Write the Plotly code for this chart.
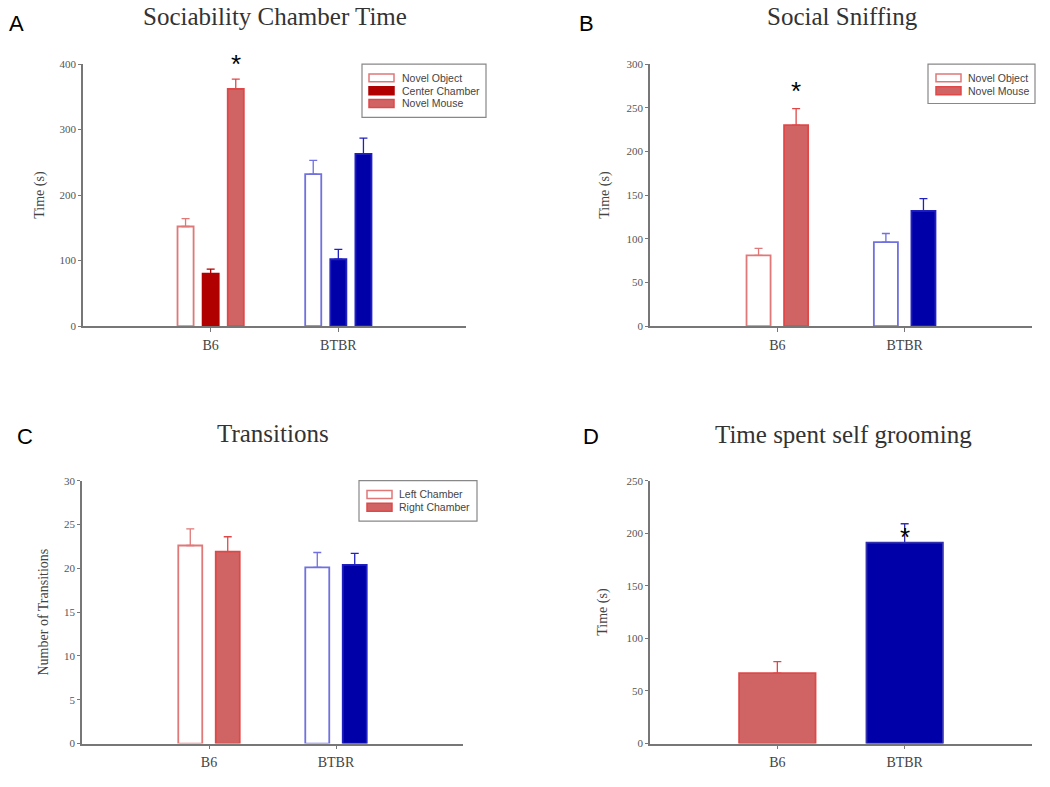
import plotly.graph_objects as go

# data
strains = ['B6', 'BTBR']

# A - Sociability chamber time
chamber_object = [152, 232]
chamber_object_err = [12, 21]
chamber_center = [80, 102]
chamber_center_err = [7, 15]
chamber_mouse = [362, 263]
chamber_mouse_err = [15, 24]

# B - Social sniffing
sniff_object = [81, 96]
sniff_object_err = [8, 10]
sniff_mouse = [230, 132]
sniff_mouse_err = [19, 14]

# C - Transitions
trans_left = [22.6, 20.1]
trans_left_err = [1.9, 1.7]
trans_right = [21.9, 20.4]
trans_right_err = [1.7, 1.3]

# D - Self grooming
groom = [67, 191]
groom_err = [11, 18]

RED_LINE = '#e04848'
RED_OPEN = '#e07878'
RED_FILL = '#d06464'
DARK_RED = '#b00000'
BLUE_OPEN = '#7070e0'
BLUE_FILL = '#0000a8'
BLUE_LINE = '#2020c0'

# styles per condition: (fill, outline) for B6 and BTBR
OPEN = [('white', RED_OPEN), ('white', BLUE_OPEN)]
CENTER = [(DARK_RED, DARK_RED), (BLUE_FILL, BLUE_LINE)]
FILLED = [(RED_FILL, RED_LINE), (BLUE_FILL, BLUE_LINE)]

SERIF = 'Liberation Serif, Times New Roman, serif'
SANS = 'Liberation Sans, Arial, sans-serif'

# body margin is removed in the page (see post_script), so screen px == figure px
W, H = 1050, 787


def px(x):
    return x / W


def py(y):
    return 1 - y / H


fig = go.Figure()


def add_group(y, err, style, group, xa, ya, **kw):
    # one trace per strain so each strain gets its own error bar colour
    for i, s in enumerate(strains):
        fill, line = style[i]
        fig.add_trace(go.Bar(
            x=[s], y=[y[i]], offsetgroup=group,
            marker=dict(color=fill, line=dict(color=line, width=1.8)),
            error_y=dict(type='data', array=[err[i]], arrayminus=[0], symmetric=False,
                         color=line, thickness=1.3, width=4),
            xaxis=xa, yaxis=ya, showlegend=False, **kw))


add_group(chamber_object, chamber_object_err, OPEN, 'a1', 'x', 'y')
add_group(chamber_center, chamber_center_err, CENTER, 'a2', 'x', 'y')
add_group(chamber_mouse, chamber_mouse_err, FILLED, 'a3', 'x', 'y')

add_group(sniff_object, sniff_object_err, OPEN, 'b1', 'x2', 'y2')
add_group(sniff_mouse, sniff_mouse_err, FILLED, 'b2', 'x2', 'y2')

add_group(trans_left, trans_left_err, OPEN, 'c1', 'x3', 'y3')
add_group(trans_right, trans_right_err, FILLED, 'c2', 'x3', 'y3')

add_group(groom, groom_err, [(RED_FILL, RED_LINE), (BLUE_FILL, '#3030b0')], 'd1', 'x4', 'y4',
          width=0.6, offset=-0.3)

# axis boxes in screen pixels: (left, right, top, bottom)
boxes = [(83, 466, 59, 325), (650, 1032, 59, 325), (82, 463, 482, 749), (650, 1032, 482, 749)]
yranges = [[0, 400], [0, 300], [0, 30], [0, 250]]
ydticks = [100, 50, 5, 50]
ytitles = ['Time (s)', 'Time (s)', 'Number of Transitions', 'Time (s)']
ystand = [12, 14, 12, 16]

axis_common = dict(showline=True, linecolor='#777', linewidth=1.5, showgrid=False,
                   zeroline=False, ticks='outside', tickcolor='#777', ticklen=3)

layout = dict(
    width=W, height=H, margin=dict(l=0, r=0, t=0, b=0),
    paper_bgcolor='white', plot_bgcolor='white',
    barmode='group', bargap=0.41, bargroupgap=0.36,
)
for i in range(4):
    s = '' if i == 0 else str(i + 1)
    l, r, t, b = boxes[i]
    layout['xaxis' + s] = dict(axis_common, domain=[px(l), px(r)], anchor='y' + s, type='category',
                               range=[-1, 2], ticklen=4, ticklabelstandoff=1,
                               tickfont=dict(family=SERIF, size=14, color='#444'))
    layout['yaxis' + s] = dict(axis_common, domain=[py(b), py(t)], anchor='x' + s, range=yranges[i],
                               dtick=ydticks[i], tickfont=dict(family=SERIF, size=11, color='#555'),
                               title=dict(text=ytitles[i], standoff=ystand[i],
                                          font=dict(family=SERIF, size=14, color='#444')))

fig.update_layout(**layout)

# hand-drawn legends (box, swatches, labels) to match the compact originals
legends = [
    ((362, 486, 59, 113), 369, 400, [73, 86, 99],
     ['Novel Object', 'Center Chamber', 'Novel Mouse'], [OPEN[0], CENTER[0], FILLED[0]]),
    ((928, 1035, 59, 99), 936, 966, [73, 86],
     ['Novel Object', 'Novel Mouse'], [OPEN[0], FILLED[0]]),
    ((359, 477, 482, 523), 367, 397, [496, 509],
     ['Left Chamber', 'Right Chamber'], [OPEN[0], FILLED[0]]),
]
for (l, r, t, b), sx, tx, rows, labels, styles in legends:
    fig.add_shape(type='rect', xref='paper', yref='paper', x0=px(l), x1=px(r), y0=py(b), y1=py(t),
                  line=dict(color='#888', width=1.2), fillcolor='white')
    for ry, lab, (fill, line) in zip(rows, labels, styles):
        fig.add_shape(type='rect', xref='paper', yref='paper', x0=px(sx), x1=px(sx + 25),
                      y0=py(ry + 4), y1=py(ry - 4), line=dict(color=line, width=1.5), fillcolor=fill)
        fig.add_annotation(text=lab, x=px(tx), y=py(ry), xref='paper', yref='paper',
                           showarrow=False, xanchor='left', yanchor='middle',
                           font=dict(family=SANS, size=10.5, color='#444'))

# panel titles and letters
titles = [('Sociability Chamber Time', 275, 16), ('Social Sniffing', 842, 16),
          ('Transitions', 273, 439), ('Time spent self grooming', 843, 440)]
for text, x, y in titles:
    fig.add_annotation(text=text, x=px(x), y=py(y - 5), xref='paper', yref='paper',
                       showarrow=False, xanchor='center', yanchor='middle', borderpad=0,
                       font=dict(family=SERIF, size=25, color='#333'))

letters = [('A', 16, 24), ('B', 586, 24), ('C', 25, 443), ('D', 591, 443)]
for text, x, y in letters:
    fig.add_annotation(text=text, x=px(x), y=py(y - 6), xref='paper', yref='paper',
                       showarrow=False, xanchor='center', yanchor='middle',
                       font=dict(family=SANS, size=22, color='black'))

# significance asterisks
stars = [('x', 'y', 0.197, 400), ('x2', 'y2', 0.1475, 269), ('x4', 'y4', 1, 196)]
for xa, ya, xv, yv in stars:
    fig.add_annotation(text='*', x=xv, y=yv, xref=xa, yref=ya, showarrow=False,
                       yanchor='middle', font=dict(family=SANS, size=26, color='black'))

fig.write_html('out.html', config={'displayModeBar': False},
               post_script="document.body.style.margin='0px';")
